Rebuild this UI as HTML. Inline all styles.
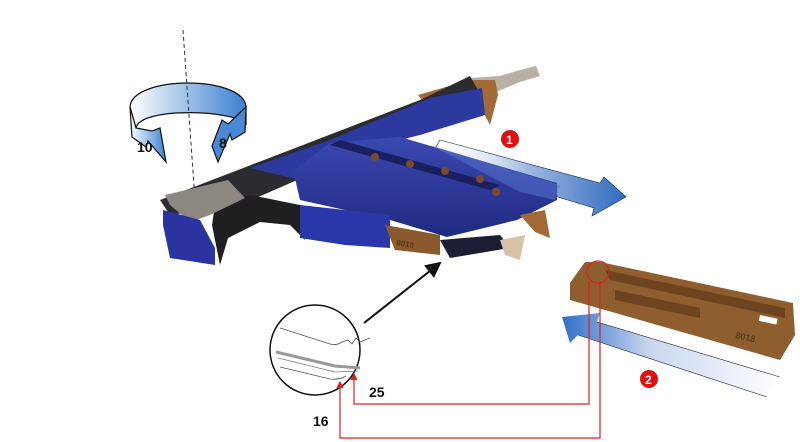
<!DOCTYPE html>
<html><head><meta charset="utf-8"><style>
html,body{margin:0;padding:0;background:#fff;width:800px;height:442px;overflow:hidden}
svg{display:block}
text{font-family:"Liberation Sans",sans-serif;font-weight:bold}
</style></head><body>
<svg width="800" height="442" viewBox="0 0 800 442" xmlns="http://www.w3.org/2000/svg">
<defs>
<linearGradient id="a1" x1="0" y1="0" x2="1" y2="0"><stop offset="0" stop-color="#fff" stop-opacity="0"/><stop offset="0.5" stop-color="#9fb8e0"/><stop offset="1" stop-color="#2f6cc0"/></linearGradient>
<linearGradient id="a2" x1="1" y1="0" x2="0" y2="0"><stop offset="0" stop-color="#fff"/><stop offset="0.6" stop-color="#c8d6ef"/><stop offset="1" stop-color="#2e6ec6"/></linearGradient>
<linearGradient id="rot" x1="0" y1="0" x2="1" y2="0"><stop offset="0" stop-color="#fff"/><stop offset="1" stop-color="#3a80d0"/></linearGradient>
<linearGradient id="blu" x1="0" y1="0" x2="0" y2="1"><stop offset="0" stop-color="#3b48b0"/><stop offset="1" stop-color="#1f2a80"/></linearGradient>
<marker id="ar" markerWidth="8" markerHeight="8" refX="7" refY="4" orient="auto"><path d="M0,0 L8,4 L0,8 z" fill="#111"/></marker>
<marker id="rr" markerWidth="6" markerHeight="6" refX="5" refY="3" orient="auto"><path d="M0,0 L6,3 L0,6 z" fill="#e02020"/></marker>
</defs>

<!-- rotation icon -->
<path d="M130,107 C132,75 244,75 246,107 L246,125 C240,110 140,106 136,128 Z" fill="url(#rot)" stroke="#111" stroke-width="1.2"/>
<path d="M130,107 L132,137 L146,147 L148,141 L166,162 L160,128 L152,131 L136,128 Z" fill="url(#rot)" stroke="#111" stroke-width="1.2"/>
<path d="M246,107 L245,132 L232,140 L230,134 L218,162 L212,146 L222,120 L228,124 Z" fill="#4a88d4" stroke="#111" stroke-width="1.2"/>
<line x1="183" y1="30" x2="195" y2="200" stroke="#333" stroke-dasharray="4,3" stroke-width="1"/>
<text x="137" y="152" font-size="14" fill="#111">10</text>
<text x="219" y="148" font-size="14" fill="#111">8</text>

<!-- arrow 1 -->
<polygon points="440,140 600,183 604,177 626,197 592,216 594,208 430,158" fill="url(#a1)" stroke="#1a2a50" stroke-width="0.6"/>

<!-- tool -->
<polygon points="470,78 500,76 520,70 536,66 540,76 520,82 496,92 470,92" fill="#b8b0a5"/>
<polygon points="418,95 470,80 495,80 498,95 490,125 482,110 422,100" fill="#a46a35"/>
<polygon points="160,200 420,100 470,76 478,90 320,170 240,205 170,215" fill="#2b2b30"/>
<polygon points="250,168 330,140 430,98 482,88 485,115 420,135 400,140 340,150 300,180" fill="#2c3aa0"/>
<polygon points="215,205 250,195 300,205 305,240 290,225 260,222 228,238 220,265 212,225" fill="#1f1f22"/>
<polygon points="293,170 330,143 400,137 557,183 557,200 517,220 447,237 390,220 300,200" fill="url(#blu)"/>
<polygon points="330,145 490,190 500,185 340,140" fill="#1a1f60"/>
<polygon points="430,145 560,185 555,200 520,192" fill="#5a78d0" opacity="0.5"/>
<circle cx="375" cy="157" r="4" fill="#7a4a2a"/><circle cx="410" cy="164" r="4" fill="#7a4a2a"/><circle cx="445" cy="171" r="4" fill="#7a4a2a"/><circle cx="480" cy="179" r="4" fill="#7a4a2a"/><circle cx="496" cy="192" r="4" fill="#7a4a2a"/>
<polygon points="165,195 228,180 245,198 210,215 190,222 170,205" fill="#8c8780"/>
<polygon points="163,210 200,220 215,248 215,265 170,258 163,225" fill="#2b33a0"/>
<polygon points="300,205 390,215 390,248 345,245 300,238" fill="#2a37a8"/>
<polygon points="385,225 440,235 440,255 395,250" fill="#8a5a2c"/>
<text x="396" y="245" font-size="8" fill="#5a3a1a" transform="rotate(10 396 245)">8018</text>
<polygon points="440,240 500,235 510,248 450,258" fill="#1d1d35"/>
<polygon points="520,215 545,210 550,238 535,232" fill="#a46a35"/>
<polygon points="500,240 525,235 520,260 505,255" fill="#d8c2a8"/>
<circle cx="510" cy="139" r="9" fill="#e01010"/><text x="506" y="144" font-size="12" fill="#fff">1</text>

<!-- zoom circle -->
<line x1="364" y1="323" x2="440" y2="263" stroke="#111" stroke-width="2" marker-end="url(#ar)"/>
<circle cx="315" cy="350" r="45" fill="#fff" stroke="#111" stroke-width="1.5"/>
<path d="M280,328 L330,344 Q336,346 342,342 L348,340 L352,344 L356,338 L360,342 L370,338" fill="none" stroke="#555" stroke-width="0.8"/>
<path d="M276,352 L335,366 L360,368" stroke="#999" stroke-width="3" fill="none"/>
<path d="M278,358 L335,372 L358,371" stroke="#777" stroke-width="0.8" fill="none"/>
<path d="M280,367 L330,379 Q340,380 346,376" stroke="#555" stroke-width="0.8" fill="none"/>

<!-- brown bar -->
<polygon points="570,283 585,262 600,262 793,303 795,335 780,360 570,300" fill="#8e5e2e"/>
<polygon points="605,270 785,308 785,318 610,280" fill="#6e4420"/>
<polygon points="615,290 700,308 700,318 615,300" fill="#6e4420"/>
<rect x="760" y="315" width="18" height="6" fill="#fff" transform="rotate(12 760 315)"/>
<text x="735" y="338" font-size="9" fill="#5a3a1a" transform="rotate(12 735 338)">8018</text>
<circle cx="598" cy="272" r="11" fill="none" stroke="#e02020" stroke-width="1.2"/>

<!-- arrow 2 -->
<polygon points="780,377 597,322 600,313 562,317 570,343 578,335 767,397" fill="url(#a2)"/>
<line x1="597" y1="322" x2="780" y2="377" stroke="#223" stroke-width="0.6"/>
<line x1="578" y1="335" x2="767" y2="397" stroke="#223" stroke-width="0.6"/>
<circle cx="649" cy="379" r="9" fill="#e01010"/><text x="645" y="384" font-size="12" fill="#fff">2</text>

<!-- red leader lines -->
<polyline points="589,282 589,404 354,404 354,374" fill="none" stroke="#e02020" stroke-width="1.2" marker-end="url(#rr)"/>
<polyline points="600,282 600,438 340,438 340,382" fill="none" stroke="#e02020" stroke-width="1.2" marker-end="url(#rr)"/>
<text x="369" y="397" font-size="14" fill="#111">25</text>
<text x="313" y="426" font-size="14" fill="#111">16</text>
</svg>
</body></html>
